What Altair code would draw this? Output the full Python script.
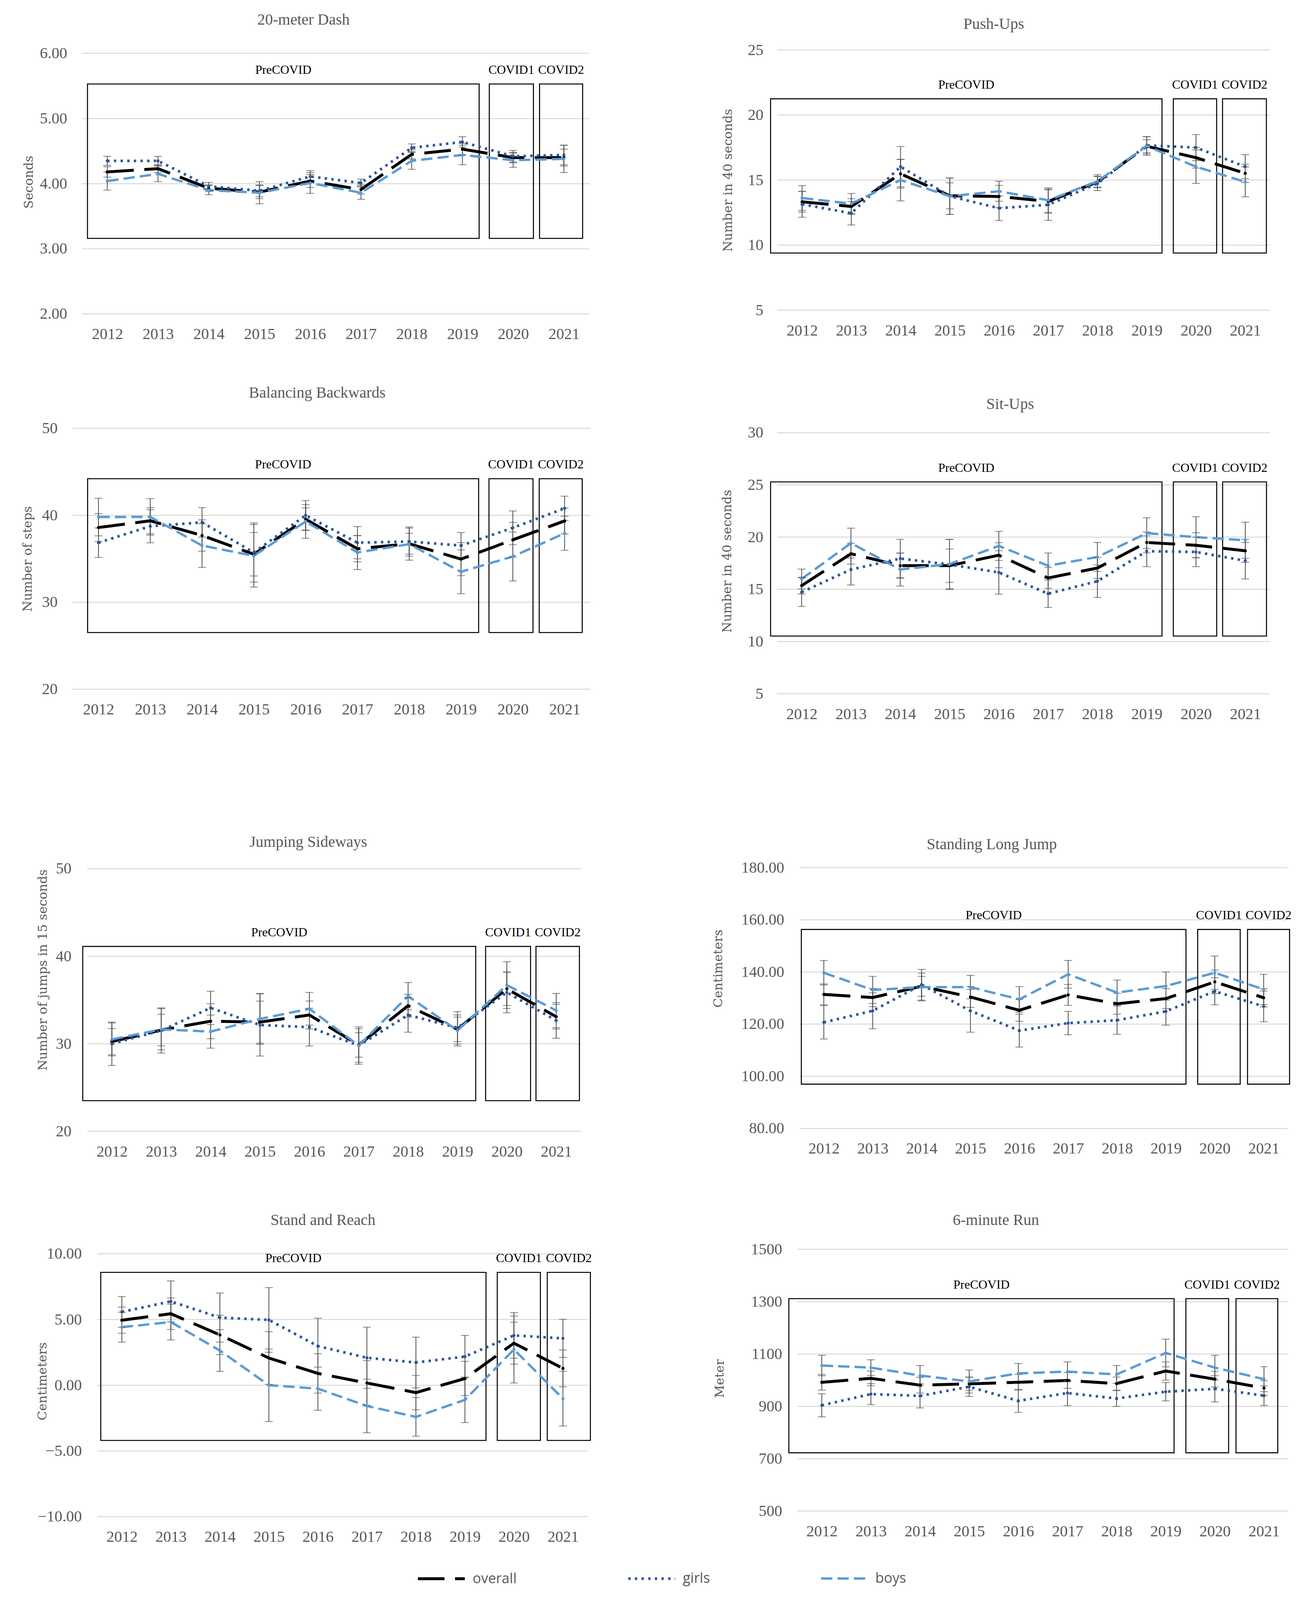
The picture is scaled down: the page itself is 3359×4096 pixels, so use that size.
import altair as alt
import pandas as pd

years = [2012, 2013, 2014, 2015, 2016, 2017, 2018, 2019, 2020, 2021]
series_names = ["overall", "girls", "boys"]
series_colors = ["#000000", "#2F5597", "#5B9BD5"]
series_dashes = [[68, 27], [6, 11], [29, 13]]
series_widths = [7.5, 6, 6.5]
box_labels = ["PreCOVID", "COVID1", "COVID2"]

# 20-meter Dash (seconds)
dash_overall = [4.18, 4.23, 3.93, 3.87, 4.04, 3.91, 4.45, 4.53, 4.40, 4.40]
dash_girls = [4.35, 4.35, 3.96, 3.89, 4.11, 4.01, 4.55, 4.64, 4.42, 4.44]
dash_boys = [4.04, 4.15, 3.90, 3.86, 4.01, 3.86, 4.35, 4.44, 4.36, 4.38]
dash_overall_err = [0.08, 0.06, 0.05, 0.10, 0.10, 0.07, 0.07, 0.09, 0.08, 0.13]
dash_girls_err = [0.07, 0.07, 0.06, 0.09, 0.09, 0.06, 0.06, 0.08, 0.09, 0.15]
dash_boys_err = [0.14, 0.12, 0.07, 0.17, 0.16, 0.10, 0.13, 0.15, 0.11, 0.21]
dash_box_x = [2011.61, 2019.33, 2019.53, 2020.40, 2020.52, 2021.37]
dash_box_y = [3.16, 5.53]

# Push-Ups
push_overall = [13.33, 12.97, 15.48, 13.79, 13.74, 13.36, 14.86, 17.60, 16.72, 15.52]
push_girls = [13.14, 12.45, 16.03, 13.76, 12.84, 13.10, 14.74, 17.67, 17.50, 16.03]
push_boys = [13.62, 13.19, 15.00, 13.76, 14.14, 13.45, 14.91, 17.62, 16.03, 14.86]
push_overall_err = [0.80, 0.60, 1.10, 1.00, 0.85, 0.90, 0.40, 0.50, 0.80, 0.70]
push_girls_err = [1.00, 0.90, 1.55, 1.40, 0.95, 1.20, 0.55, 0.67, 1.00, 0.92]
push_boys_err = [0.95, 0.78, 1.60, 1.40, 0.77, 0.95, 0.50, 0.72, 1.29, 1.15]
push_box_x = [2011.36, 2019.31, 2019.54, 2020.42, 2020.54, 2021.43]
push_box_y = [9.39, 21.25]

# Balancing Backwards
bal_overall = [38.59, 39.37, 37.68, 35.52, 39.55, 36.15, 36.73, 34.96, 37.18, 39.35]
bal_girls = [36.85, 38.74, 39.19, 35.72, 40.00, 36.85, 36.98, 36.52, 38.56, 40.80]
bal_boys = [39.80, 39.82, 36.52, 35.34, 39.29, 35.72, 36.68, 33.50, 35.26, 37.93]
bal_overall_err = [1.6, 1.5, 1.8, 2.5, 1.3, 1.5, 1.2, 1.9, 2.0, 1.5]
bal_girls_err = [1.70, 1.90, 1.70, 3.40, 1.70, 1.85, 1.68, 1.50, 1.94, 1.40]
bal_boys_err = [2.16, 2.10, 2.52, 3.60, 1.94, 1.96, 1.84, 2.52, 2.82, 1.96]
bal_box_x = [2011.79, 2019.34, 2019.54, 2020.39, 2020.51, 2021.34]
bal_box_y = [26.52, 44.21]

# Sit-Ups
sit_overall = [15.36, 18.41, 17.27, 17.27, 18.27, 16.09, 17.04, 19.49, 19.22, 18.69]
sit_girls = [14.73, 16.90, 17.95, 17.38, 16.62, 14.58, 15.78, 18.65, 18.58, 17.74]
sit_boys = [15.99, 19.43, 16.90, 17.42, 19.16, 17.26, 18.10, 20.38, 20.00, 19.70]
sit_overall_err = [0.8, 1.0, 1.2, 1.6, 1.2, 1.0, 1.0, 1.0, 1.2, 1.1]
sit_girls_err = [1.37, 1.48, 1.84, 2.40, 2.08, 1.32, 1.56, 1.48, 1.41, 1.75]
sit_boys_err = [0.95, 1.43, 1.58, 2.37, 1.39, 1.22, 1.39, 1.47, 1.96, 1.73]
sit_box_x = [2011.37, 2019.31, 2019.54, 2020.42, 2020.54, 2021.43]
sit_box_y = [10.53, 25.29]

# Jumping Sideways
jump_overall = [30.25, 31.57, 32.58, 32.48, 33.29, 29.87, 34.35, 31.65, 36.28, 33.09]
jump_girls = [30.00, 31.52, 34.10, 32.15, 31.90, 29.80, 33.29, 31.82, 35.87, 32.66]
jump_boys = [30.50, 31.65, 31.39, 32.84, 34.00, 29.80, 35.44, 31.52, 36.70, 33.80]
jump_overall_err = [1.5, 1.8, 2.0, 2.4, 1.6, 1.4, 1.3, 1.4, 1.9, 1.4]
jump_girls_err = [2.48, 2.58, 1.90, 3.55, 2.15, 2.13, 1.97, 1.85, 2.33, 2.03]
jump_boys_err = [1.88, 2.35, 1.89, 2.91, 1.87, 1.92, 1.56, 1.77, 2.67, 1.95]
jump_box_x = [2011.41, 2019.37, 2019.57, 2020.48, 2020.59, 2021.47]
jump_box_y = [23.50, 41.12]

# Standing Long Jump
slj_overall = [131.4, 130.2, 134.5, 130.4, 125.3, 131.2, 127.8, 129.8, 136.2, 130.1]
slj_girls = [120.7, 125.1, 135.1, 125.1, 117.5, 120.4, 121.5, 124.9, 132.6, 126.8]
slj_boys = [139.7, 133.1, 134.2, 134.2, 129.5, 139.1, 132.1, 134.6, 139.7, 133.3]
slj_overall_err = [4.0, 3.5, 3.8, 4.0, 4.2, 4.0, 4.0, 3.8, 4.5, 3.5]
slj_girls_err = [6.4, 6.9, 5.9, 8.2, 6.3, 4.5, 5.4, 5.3, 5.2, 5.9]
slj_boys_err = [4.7, 5.2, 5.3, 4.5, 4.9, 5.3, 4.8, 5.4, 6.4, 5.8]
slj_box_x = [2011.54, 2019.41, 2019.65, 2020.52, 2020.67, 2021.53]
slj_box_y = [97.0, 156.3]

# Stand and Reach
sar_overall = [4.95, 5.44, 3.83, 2.07, 0.90, 0.17, -0.56, 0.51, 3.20, 1.28]
sar_girls = [5.58, 6.38, 5.15, 4.97, 2.98, 2.09, 1.73, 2.18, 3.79, 3.57]
sar_boys = [4.42, 4.81, 2.64, 0.00, -0.26, -1.58, -2.41, -1.11, 2.72, -1.02]
sar_overall_err = [1.0, 1.2, 1.5, 2.0, 1.5, 1.7, 1.3, 1.3, 1.6, 1.4]
sar_girls_err = [1.17, 1.56, 1.87, 2.46, 2.12, 2.33, 1.93, 1.61, 1.74, 1.45]
sar_boys_err = [1.14, 1.36, 1.59, 2.76, 1.64, 2.04, 1.47, 1.73, 2.55, 2.08]
sar_box_x = [2011.57, 2019.43, 2019.66, 2020.54, 2020.68, 2021.56]
sar_box_y = [-4.20, 8.59]

# 6-minute Run
run_overall = [992, 1007, 981, 986, 992, 999, 987, 1035, 1004, 970]
run_girls = [904, 947, 940, 975, 921, 951, 930, 956, 967, 941]
run_boys = [1056, 1048, 1018, 995, 1026, 1033, 1022, 1104, 1048, 1004]
run_overall_err = [30, 28, 30, 25, 30, 30, 25, 35, 30, 28]
run_girls_err = [44, 40, 46, 37, 44, 48, 30, 35, 50, 38]
run_boys_err = [39, 30, 38, 44, 38, 37, 34, 53, 47, 48]
run_box_x = [2011.33, 2019.17, 2019.41, 2020.28, 2020.43, 2021.28]
run_box_y = [722.6, 1311.6]

SERIF = "Liberation Serif"
GRAY = "#595959"
COL_LEFT = [215.0, 2010.0]
GRID_TOP = 127.3
S_ROW = 292.6

panels = [
    dict(title="20-meter Dash", ytitle="Seconds", vals=(dash_overall, dash_girls, dash_boys),
         errs=(dash_overall_err, dash_girls_err, dash_boys_err), ticks=[2, 3, 4, 5, 6], fmt=".2f",
         box_x=dash_box_x, box_y=dash_box_y, band=(209.7, 1508.6), vert=(135.9, 803.0),
         tpos=(777, 49.9), ytx=73.5, lab=171.6),
    dict(title="Push-Ups", ytitle="Number in 40 seconds", vals=(push_overall, push_girls, push_boys),
         errs=(push_overall_err, push_girls_err, push_boys_err), ticks=[5, 10, 15, 20, 25], fmt="d",
         box_x=push_box_x, box_y=push_box_y, band=(1990.3, 3250.8), vert=(127.3, 793.3),
         tpos=(2544, 61.4), ytx=1863, lab=1953.7),
    dict(title="Balancing Backwards", ytitle="Number of steps", vals=(bal_overall, bal_girls, bal_boys),
         errs=(bal_overall_err, bal_girls_err, bal_boys_err), ticks=[20, 30, 40, 50], fmt="d",
         box_x=bal_box_x, box_y=bal_box_y, band=(185.8, 1511.8), vert=(1095.6, 1763.3),
         tpos=(812, 1005), ytx=70, lab=147.1),
    dict(title="Sit-Ups", ytitle="Number in 40 seconds", vals=(sit_overall, sit_girls, sit_boys),
         errs=(sit_overall_err, sit_girls_err, sit_boys_err), ticks=[5, 10, 15, 20, 25, 30], fmt="d",
         box_x=sit_box_x, box_y=sit_box_y, band=(1989.1, 3251.1), vert=(1106.8, 1775.0),
         tpos=(2586, 1033.7), ytx=1861, lab=1953.6),
    dict(title="Jumping Sideways", ytitle="Number of  jumps in 15 seconds",
         vals=(jump_overall, jump_girls, jump_boys),
         errs=(jump_overall_err, jump_girls_err, jump_boys_err), ticks=[20, 30, 40, 50], fmt="d",
         box_x=jump_box_x, box_y=jump_box_y, band=(223.2, 1487.2), vert=(2222.3, 2894.6),
         tpos=(789.6, 2154), ytx=109, lab=182.4),
    dict(title="Standing Long Jump", ytitle="Centimeters", vals=(slj_overall, slj_girls, slj_boys),
         errs=(slj_overall_err, slj_girls_err, slj_boys_err), ticks=[80, 100, 120, 140, 160, 180], fmt=".2f",
         box_x=slj_box_x, box_y=slj_box_y, band=(2046.4, 3297.6), vert=(2219.5, 2887.3),
         tpos=(2539, 2160), ytx=1838, lab=2007.1),
    dict(title="Stand and Reach", ytitle="Centimeters", vals=(sar_overall, sar_girls, sar_boys),
         errs=(sar_overall_err, sar_girls_err, sar_boys_err), ticks=[-10, -5, 0, 5, 10], fmt=".2f",
         box_x=sar_box_x, box_y=sar_box_y, band=(249.2, 1504.0), vert=(3208.2, 3881.0),
         tpos=(826.8, 3122), ytx=108, lab=208.9),
    dict(title="6-minute Run", ytitle="Meter", vals=(run_overall, run_girls, run_boys),
         errs=(run_overall_err, run_girls_err, run_boys_err), ticks=[500, 700, 900, 1100, 1300, 1500], fmt="d",
         box_x=run_box_x, box_y=run_box_y, band=(2040.8, 3298.8), vert=(3196.7, 3866.7),
         tpos=(2549.6, 3122), ytx=1842, lab=2001.9),
]

# row tops of the grid: each row starts S_ROW below the lowest plot bottom of the row above
ROW_TOP = [GRID_TOP]
for r in range(3):
    ROW_TOP.append(max(panels[2 * r]["vert"][1], panels[2 * r + 1]["vert"][1]) + S_ROW)
S_COL = COL_LEFT[1] - COL_LEFT[0] - max(panels[i]["band"][1] - COL_LEFT[0] for i in range(0, 8, 2))


def geometry(i):
    p = panels[i]
    row, col = divmod(i, 2)
    b0, b1 = p["band"]
    v0, v1 = p["vert"]
    left = COL_LEFT[col]
    width = b1 - left
    ppy = (b1 - b0) / 10.0
    xdom = [2011.5 + (left - b0) / ppy, 2021.5]
    top = ROW_TOP[row]
    height = v1 - top
    ymin, ymax = p["ticks"][0], p["ticks"][-1]
    ppu = (v1 - v0) / (ymax - ymin)
    ydom = [ymin, ymax + (v0 - top) / ppu]
    return left, width, xdom, top, height, ydom


def make_panel(i, legend=None):
    p = panels[i]
    left, width, xdom, top, height, ydom = geometry(i)
    xs = alt.Scale(domain=xdom, nice=False, zero=False)
    ys = alt.Scale(domain=ydom, nice=False, zero=False)

    rows = []
    for name, vals, errs in zip(series_names, p["vals"], p["errs"]):
        for yr, v, e in zip(years, vals, errs):
            rows.append({"year": yr, "series": name, "value": v, "lo": v - e, "hi": v + e})
    df = pd.DataFrame(rows)

    bx, by = p["box_x"], p["box_y"]
    boxes = pd.DataFrame({
        "label": box_labels,
        "x1": bx[0::2], "x2": bx[1::2],
        "y1": [by[0]] * 3, "y2": [by[1]] * 3,
    })
    boxes["xm"] = (boxes["x1"] + boxes["x2"]) / 2
    grid = pd.DataFrame({"v": p["ticks"], "g1": years[0] - 0.5, "g2": years[-1] + 0.5})

    x_axis = alt.Axis(values=years, format="d", grid=False, domain=False, ticks=False, tickSize=0,
                      labelPadding=32, labelFont=SERIF, labelFontSize=40, labelColor=GRAY,
                      title=None, labelFlush=False, labelOverlap=False)
    y_axis = alt.Axis(values=p["ticks"], format=p["fmt"], grid=False, domain=False, ticks=False, tickSize=0,
                      labelPadding=left - p["lab"], labelFont=SERIF, labelFontSize=40, labelColor=GRAY,
                      labelFlush=False, labelOverlap=False,
                      title=p["ytitle"], titleFont="DejaVu Serif", titleFontSize=32, titleColor=GRAY,
                      titleFontWeight="normal", titleX=p["ytx"] - left, titleBaseline="middle")

    def X(f):
        return alt.X(f, scale=xs, axis=x_axis)

    def Y(f):
        return alt.Y(f, scale=ys, axis=y_axis)

    gridl = alt.Chart(grid).mark_rule(color="#D9D9D9", strokeWidth=2.5).encode(
        x=X("g1:Q"), x2="g2:Q", y=Y("v:Q"))
    rect = alt.Chart(boxes).mark_rect(fillOpacity=0, stroke="black", strokeWidth=2.6).encode(
        x=X("x1:Q"), x2="x2:Q", y=Y("y1:Q"), y2="y2:Q")
    txt = alt.Chart(boxes).mark_text(font=SERIF, fontSize=32, color="black", dy=-36,
                                     baseline="middle", align="center").encode(
        x=X("xm:Q"), y=Y("y2:Q"), text="label:N")

    cscale = alt.Scale(domain=series_names, range=series_colors)
    line = alt.Chart(df).mark_line().encode(
        x=X("year:Q"), y=Y("value:Q"),
        color=alt.Color("series:N", scale=cscale, legend=legend),
        strokeDash=alt.StrokeDash("series:N", scale=alt.Scale(domain=series_names, range=series_dashes),
                                  legend=legend),
        strokeWidth=alt.StrokeWidth("series:N", scale=alt.Scale(domain=series_names, range=series_widths),
                                    legend=None),
    )
    err = alt.Chart(df).mark_rule(color="#4D4D4D", strokeWidth=2).encode(
        x=X("year:Q"), y=Y("lo:Q"), y2="hi:Q")
    cap_lo = alt.Chart(df).mark_tick(color="#4D4D4D", orient="horizontal", size=20, thickness=2).encode(
        x=X("year:Q"), y=Y("lo:Q"))
    cap_hi = alt.Chart(df).mark_tick(color="#4D4D4D", orient="horizontal", size=20, thickness=2).encode(
        x=X("year:Q"), y=Y("hi:Q"))
    pts = alt.Chart(df).mark_circle(size=60, opacity=1).encode(
        x=X("year:Q"), y=Y("value:Q"),
        color=alt.Color("series:N", scale=cscale, legend=None))

    # the title is placed above the upper edge of the panel content (top label or plot edge)
    top_edge = min(0.0, (p["vert"][0] - top) - 20)
    centre = p["tpos"][1] - top
    title = alt.TitleParams(text=p["title"], font=SERIF, fontSize=40, color=GRAY, fontWeight="normal",
                            anchor="middle", frame="group", baseline="middle",
                            offset=top_edge - 40 - centre, dx=p["tpos"][0] - (left + width / 2))
    return alt.layer(gridl, rect, txt, line, err, cap_lo, cap_hi, pts).properties(
        width=width, height=height, title=title)


# legend attached to the bottom-left panel
l7, w7, _, t7, _, _ = geometry(6)
legend = alt.Legend(orient="none", legendX=1066 - l7, legendY=4036 - 60 - t7, direction="horizontal",
                    title=None, symbolType="stroke", symbolSize=14400, symbolStrokeWidth=10,
                    labelFont="Open Sans", labelFontSize=36, labelColor=GRAY, labelOffset=16,
                    columnPadding=272, padding=0)

charts = [make_panel(i, legend if i == 6 else None) for i in range(len(panels))]

chart = alt.concat(
    *charts, columns=2, spacing={"row": S_ROW, "column": S_COL}, bounds="flush",
    align={"row": "none", "column": "none"}
).resolve_scale(
    color="independent", strokeDash="independent", strokeWidth="independent"
).properties(
    padding={"left": 46, "top": 22, "right": 5, "bottom": 5}
).configure_view(strokeWidth=0)

chart.save("out.html", embed_options={"renderer": "svg", "actions": False})
